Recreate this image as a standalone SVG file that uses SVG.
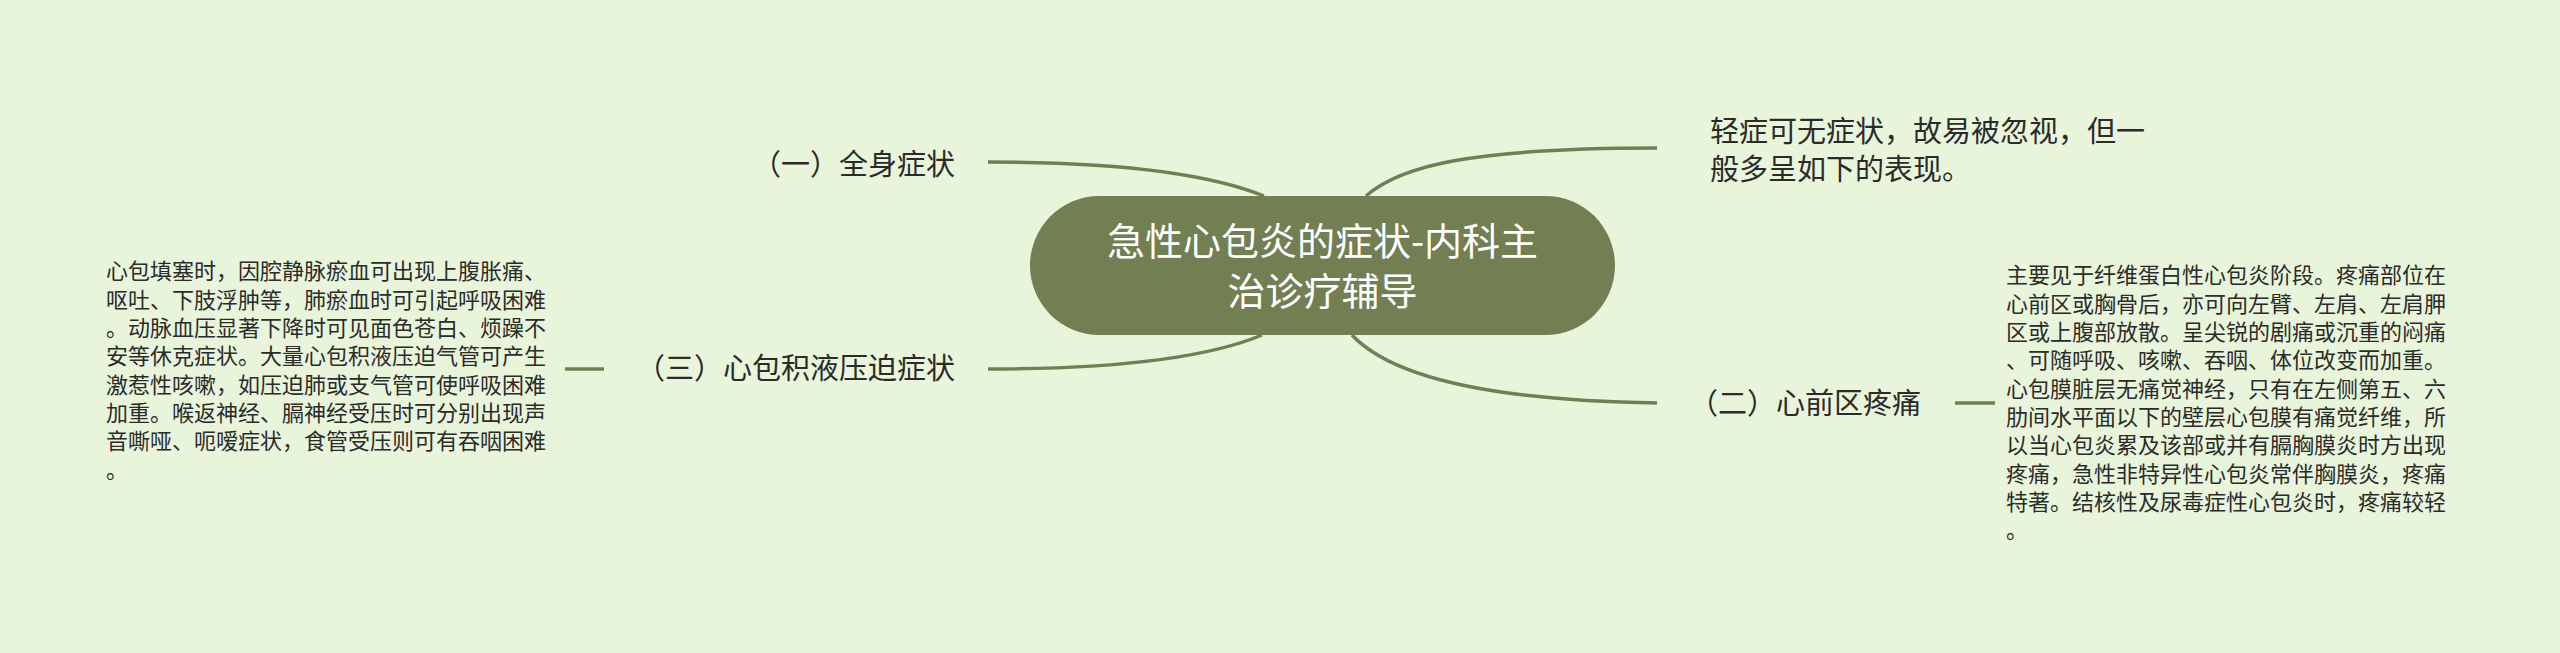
<svg xmlns="http://www.w3.org/2000/svg" width="2560" height="653" viewBox="0 0 2560 653">
<style>
.bg{fill:#e8f5da}
.conn{fill:none;stroke:#727f53;stroke-width:3.5;stroke-linecap:butt}
.root{fill:#727f53}
.rootText{font-family:"Noto Sans CJK SC","Noto Sans",sans-serif;font-size:38px;fill:#ffffff}
.branch{font-family:"Noto Sans CJK SC","Noto Sans",sans-serif;font-size:29px;fill:#2b2b2b}
.detail{font-family:"Noto Sans CJK SC","Noto Sans",sans-serif;font-size:22px;fill:#2b2b2b}
</style>
<rect class="bg" x="0" y="0" width="2560" height="653"/>
<g id="connectors">
<path class="conn" d="M988,162 C1100,162 1200,170 1264,196"/>
<path class="conn" d="M1366,196 C1400,166 1470,148 1657,148"/>
<path class="conn" d="M988,369 C1100,369 1200,361 1262,335"/>
<path class="conn" d="M1352,335 C1380,365 1450,400 1657,403"/>
<path class="conn" d="M565,369 L604,369"/>
<path class="conn" d="M1955,403 L1995,403"/>
</g>
<g id="root">
<rect class="root" x="1030" y="196" width="585" height="139" rx="69.5" ry="69.5"/>
<text class="rootText" text-anchor="middle"><tspan x="1322.5" y="255.4">急性心包炎的症状-内科主</tspan><tspan x="1322.5" y="305.4">治诊疗辅导</tspan></text>
</g>
<g id="node-summary">
<text class="branch"><tspan x="1710" y="142">轻症可无症状，故易被忽视，但一</tspan><tspan x="1710" y="180">般多呈如下的表现。</tspan></text>
</g>
<g id="node-1">
<text class="branch" x="955" y="175" text-anchor="end">（一）全身症状</text>
</g>
<g id="node-3">
<text class="branch" x="955" y="379" text-anchor="end">（三）心包积液压迫症状</text>
</g>
<g id="node-3-detail">
<text class="detail"><tspan x="106" y="279.4">心包填塞时，因腔静脉瘀血可出现上腹胀痛、</tspan><tspan x="106" y="307.7">呕吐、下肢浮肿等，肺瘀血时可引起呼吸困难</tspan><tspan x="106" y="336.1">。动脉血压显著下降时可见面色苍白、烦躁不</tspan><tspan x="106" y="364.4">安等休克症状。大量心包积液压迫气管可产生</tspan><tspan x="106" y="392.7">激惹性咳嗽，如压迫肺或支气管可使呼吸困难</tspan><tspan x="106" y="421.1">加重。喉返神经、膈神经受压时可分别出现声</tspan><tspan x="106" y="449.4">音嘶哑、呃嗳症状，食管受压则可有吞咽困难</tspan><tspan x="106" y="477.7">。</tspan></text>
</g>
<g id="node-2">
<text class="branch" x="1689" y="414">（二）心前区疼痛</text>
</g>
<g id="node-2-detail">
<text class="detail"><tspan x="2006" y="283.4">主要见于纤维蛋白性心包炎阶段。疼痛部位在</tspan><tspan x="2006" y="311.7">心前区或胸骨后，亦可向左臂、左肩、左肩胛</tspan><tspan x="2006" y="340.1">区或上腹部放散。呈尖锐的剧痛或沉重的闷痛</tspan><tspan x="2006" y="368.4">、可随呼吸、咳嗽、吞咽、体位改变而加重。</tspan><tspan x="2006" y="396.7">心包膜脏层无痛觉神经，只有在左侧第五、六</tspan><tspan x="2006" y="425.1">肋间水平面以下的壁层心包膜有痛觉纤维，所</tspan><tspan x="2006" y="453.4">以当心包炎累及该部或并有膈胸膜炎时方出现</tspan><tspan x="2006" y="481.7">疼痛，急性非特异性心包炎常伴胸膜炎，疼痛</tspan><tspan x="2006" y="510.1">特著。结核性及尿毒症性心包炎时，疼痛较轻</tspan><tspan x="2006" y="538.4">。</tspan></text>
</g>
</svg>
